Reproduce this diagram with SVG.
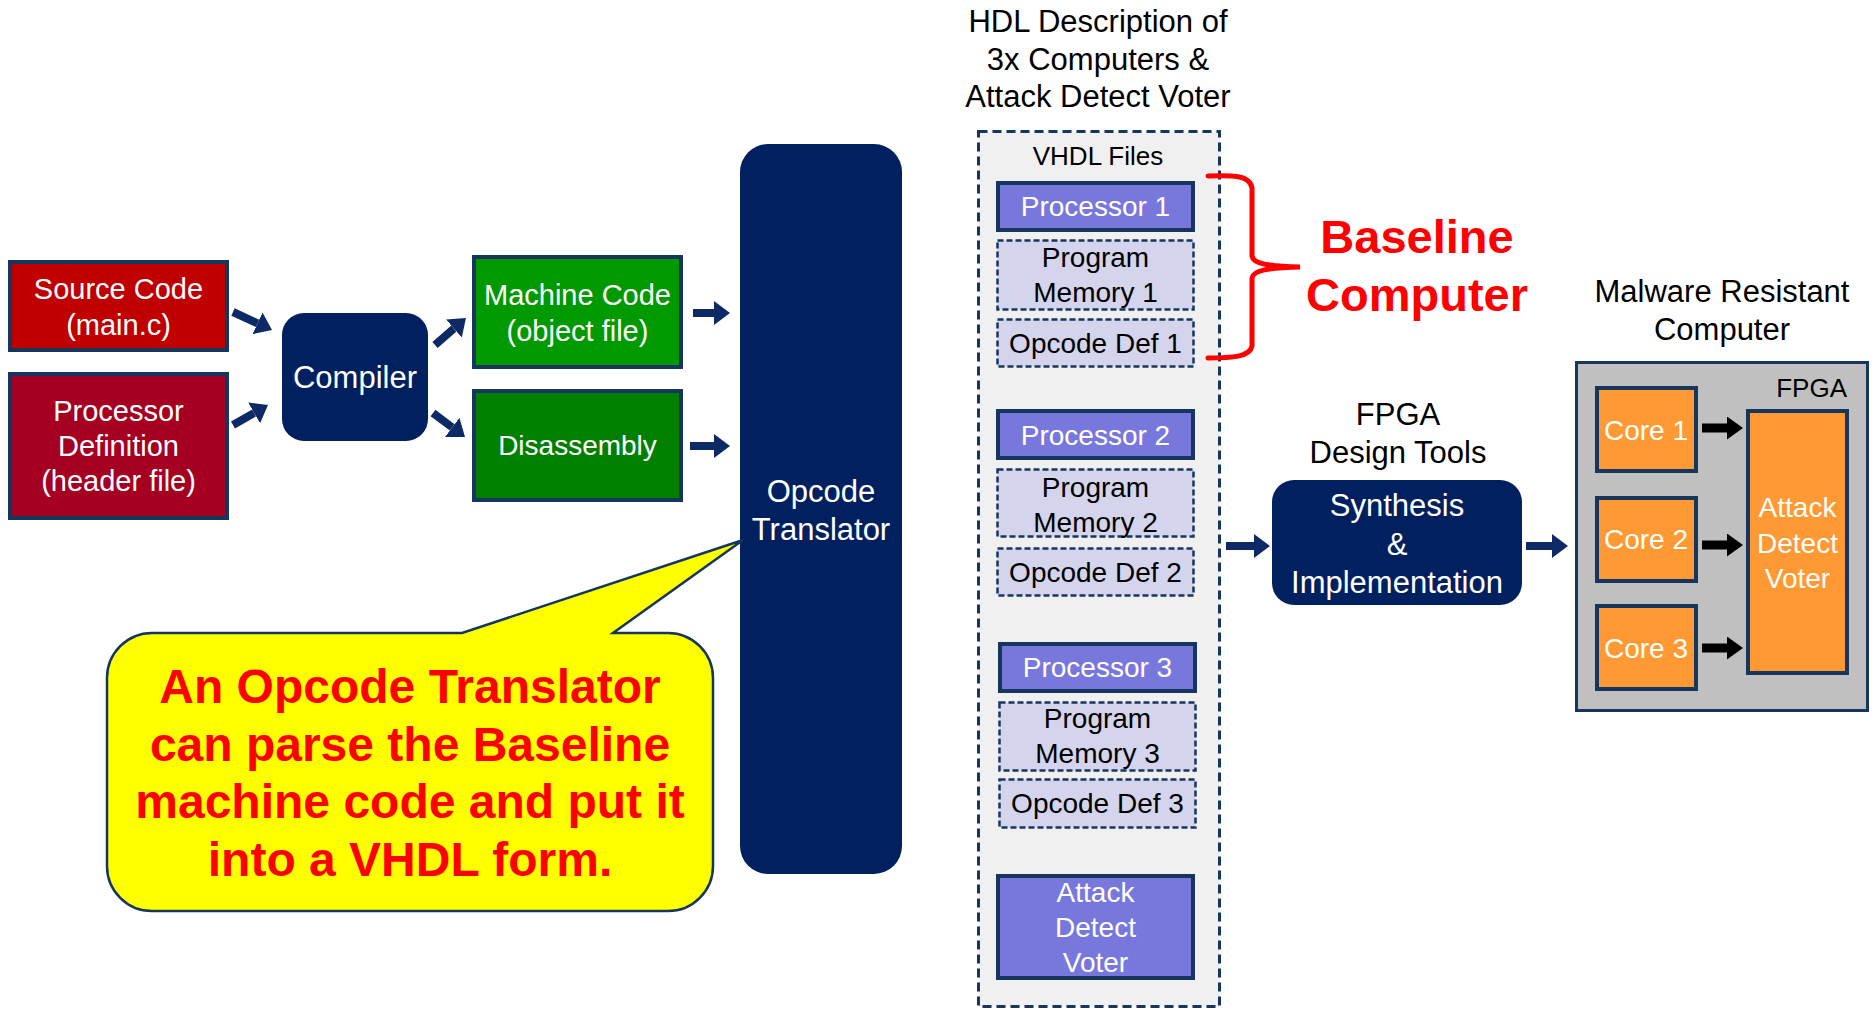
<svg xmlns="http://www.w3.org/2000/svg" width="1874" height="1010" viewBox="0 0 1874 1010">
<defs>
<style>
text{font-family:"Liberation Sans",Arial,sans-serif;text-anchor:middle}
.w{fill:#ffffff}
.k{fill:#000000}
.box{stroke:#17365d;stroke-width:4}
.navy{fill:#002060}
.proc{fill:#7878dc;stroke:#17365d;stroke-width:4}
.mem{fill:#d4d4ec;stroke:#17365d;stroke-width:2.5;stroke-dasharray:6 3}
.core{fill:#ff9933;stroke:#17365d;stroke-width:4}
.t28{font-size:28px}
.t29{font-size:29px}
.t31{font-size:31px}
.arrow{stroke:#0d2a66;stroke-width:8;fill:none;marker-end:url(#ah)}
.arrowk{stroke:#000000;stroke-width:9;fill:none;marker-end:url(#ahk)}
.red{fill:#ff0000;font-weight:bold}
</style>
<marker id="ah" viewBox="0 0 16 24" refX="0" refY="12" markerWidth="16" markerHeight="24" markerUnits="userSpaceOnUse" orient="auto">
<path d="M0,0 L16,12 L0,24 Z" fill="#0d2a66"/>
</marker>
<marker id="ahk" viewBox="0 0 16 23" refX="0" refY="11.5" markerWidth="16" markerHeight="23" markerUnits="userSpaceOnUse" orient="auto">
<path d="M0,0 L16,11.5 L0,23 Z" fill="#000000"/>
</marker>
</defs>
<rect width="1874" height="1010" fill="#ffffff"/>

<g id="source-code">
<rect class="box" x="10" y="262" width="217" height="88" fill="#c00000"/>
<text class="w t29" x="118.5" y="299">Source Code</text>
<text class="w t29" x="118.5" y="335">(main.c)</text>
</g>

<g id="processor-definition">
<rect class="box" x="10" y="374" width="217" height="144" fill="#a50021"/>
<text class="w t29" x="118.5" y="421">Processor</text>
<text class="w t29" x="118.5" y="456">Definition</text>
<text class="w t29" x="118.5" y="491">(header file)</text>
</g>

<g id="compiler">
<rect class="navy" x="282" y="313" width="146" height="128" rx="22"/>
<text class="w t31" x="355" y="388">Compiler</text>
</g>

<g id="machine-code">
<rect class="box" x="474" y="257" width="207" height="110" fill="#009900"/>
<text class="w t29" x="577.5" y="305">Machine Code</text>
<text class="w t29" x="577.5" y="341">(object file)</text>
</g>

<g id="disassembly">
<rect class="box" x="474" y="391" width="207" height="109" fill="#007f00"/>
<text class="w" style="font-size:28px" x="577.5" y="455">Disassembly</text>
</g>

<g id="opcode-translator">
<rect class="navy" x="740" y="144" width="162" height="730" rx="28"/>
<text class="w t31" x="821" y="502">Opcode</text>
<text class="w t31" x="821" y="540">Translator</text>
</g>

<g id="callout">
<path d="M152,633 L462,633 L743,540 L613,633 L668,633 A45,45 0 0 1 713,678 L713,866 A45,45 0 0 1 668,911 L152,911 A45,45 0 0 1 107,866 L107,678 A45,45 0 0 1 152,633 Z" fill="#ffff00" stroke="#17365d" stroke-width="2.5"/>
<text class="red" style="font-size:48px" x="410" y="703">An Opcode Translator</text>
<text class="red" style="font-size:48px" x="410" y="761">can parse the Baseline</text>
<text class="red" style="font-size:48px" x="410" y="818">machine code and put it</text>
<text class="red" style="font-size:48px" x="410" y="876">into a VHDL form.</text>
</g>

<g id="hdl-title">
<text class="k t31" x="1098" y="32">HDL Description of</text>
<text class="k t31" x="1098" y="70">3x Computers &amp;</text>
<text class="k t31" x="1098" y="107">Attack Detect Voter</text>
</g>

<g id="vhdl-files">
<rect x="978.5" y="131.5" width="241" height="875" fill="#f0f0f0" stroke="#17365d" stroke-width="3" stroke-dasharray="9 5"/>
<text class="k" style="font-size:26px" x="1098" y="165">VHDL Files</text>
</g>

<g id="processor-1">
<rect class="proc" x="998" y="183" width="195" height="47"/>
<text class="w t28" x="1095.5" y="216">Processor 1</text>
</g>
<g id="program-memory-1">
<rect class="mem" x="997.5" y="240.5" width="196" height="69"/>
<text class="k t28" x="1095.5" y="267">Program</text>
<text class="k t28" x="1095.5" y="302">Memory 1</text>
</g>
<g id="opcode-def-1">
<rect class="mem" x="997.5" y="319.5" width="196" height="47"/>
<text class="k t28" x="1095.5" y="353">Opcode Def 1</text>
</g>

<g id="processor-2">
<rect class="proc" x="998" y="411" width="195" height="47"/>
<text class="w t28" x="1095.5" y="445">Processor 2</text>
</g>
<g id="program-memory-2">
<rect class="mem" x="997.5" y="469.5" width="196" height="67"/>
<text class="k t28" x="1095.5" y="497">Program</text>
<text class="k t28" x="1095.5" y="532">Memory 2</text>
</g>
<g id="opcode-def-2">
<rect class="mem" x="997.5" y="548.5" width="196" height="47"/>
<text class="k t28" x="1095.5" y="582">Opcode Def 2</text>
</g>

<g id="processor-3">
<rect class="proc" x="1000" y="644" width="195" height="47"/>
<text class="w t28" x="1097.5" y="677">Processor 3</text>
</g>
<g id="program-memory-3">
<rect class="mem" x="999.5" y="702.5" width="196" height="68"/>
<text class="k t28" x="1097.5" y="728">Program</text>
<text class="k t28" x="1097.5" y="763">Memory 3</text>
</g>
<g id="opcode-def-3">
<rect class="mem" x="999.5" y="779.5" width="196" height="48"/>
<text class="k t28" x="1097.5" y="813">Opcode Def 3</text>
</g>

<g id="attack-detect-voter-vhdl">
<rect class="proc" x="998" y="876" width="195" height="102"/>
<text class="w t28" x="1095.5" y="902">Attack</text>
<text class="w t28" x="1095.5" y="937">Detect</text>
<text class="w t28" x="1095.5" y="972">Voter</text>
</g>

<g id="baseline-computer">
<path d="M1208,176 C1232,175 1250,175 1252,188 L1252,256 C1253,264 1268,266 1300,267 C1268,268 1253,270 1252,278 L1252,346 C1250,357 1232,358 1208,358" fill="none" stroke="#ff0000" stroke-width="5" stroke-linecap="round"/>
<text class="red" style="font-size:47px" x="1417" y="253">Baseline</text>
<text class="red" style="font-size:47px" x="1417" y="311">Computer</text>
</g>

<g id="fpga-design-tools">
<text class="k t31" x="1398" y="425">FPGA</text>
<text class="k t31" x="1398" y="463">Design Tools</text>
</g>

<g id="synthesis">
<rect class="navy" x="1272" y="480" width="250" height="125" rx="22"/>
<text class="w t31" x="1397" y="516">Synthesis</text>
<text class="w t31" x="1397" y="555">&amp;</text>
<text class="w t31" x="1397" y="593">Implementation</text>
</g>

<g id="malware-resistant-computer">
<text class="k t31" x="1722" y="302">Malware Resistant</text>
<text class="k t31" x="1722" y="340">Computer</text>
</g>

<g id="fpga">
<rect x="1576.5" y="362.5" width="291" height="348" fill="#c0c0c0" stroke="#17365d" stroke-width="3"/>
<text class="k" style="font-size:26px;text-anchor:end" x="1847" y="397">FPGA</text>
</g>

<g id="core-1">
<rect class="core" x="1597" y="388" width="99" height="83"/>
<text class="w t28" x="1646" y="440">Core 1</text>
</g>
<g id="core-2">
<rect class="core" x="1597" y="498" width="99" height="83"/>
<text class="w t28" x="1646" y="549">Core 2</text>
</g>
<g id="core-3">
<rect class="core" x="1597" y="606" width="99" height="83"/>
<text class="w t28" x="1646" y="658">Core 3</text>
</g>

<g id="attack-detect-voter">
<rect class="core" x="1748" y="411" width="99" height="262"/>
<text class="w t28" x="1797.5" y="517">Attack</text>
<text class="w t28" x="1797.5" y="553">Detect</text>
<text class="w t28" x="1797.5" y="588">Voter</text>
</g>

<g id="connectors">
<line class="arrow" x1="233" y1="312" x2="257.5" y2="323.3"/>
<line class="arrow" x1="233" y1="425" x2="254.1" y2="412.9"/>
<line class="arrow" x1="435" y1="345" x2="453.9" y2="328.5"/>
<line class="arrow" x1="433" y1="413" x2="452.2" y2="427.4"/>
<line class="arrow" x1="693" y1="313" x2="714" y2="313"/>
<line class="arrow" x1="690" y1="446" x2="714" y2="446"/>
<line class="arrow" x1="1226" y1="546" x2="1254" y2="546"/>
<line class="arrow" x1="1526" y1="546" x2="1552" y2="546"/>
<line class="arrowk" x1="1702" y1="428" x2="1727" y2="428"/>
<line class="arrowk" x1="1702" y1="545" x2="1727" y2="545"/>
<line class="arrowk" x1="1702" y1="648" x2="1727" y2="648"/>
</g>
</svg>
